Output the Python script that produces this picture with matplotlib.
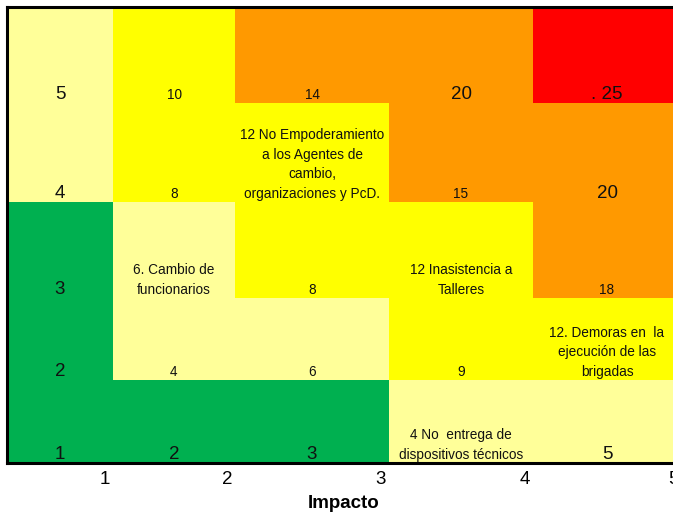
import matplotlib
matplotlib.use("Agg")
import matplotlib.pyplot as plt
import numpy as np
from matplotlib.colors import ListedColormap

plt.rcParams['font.family'] = ['Liberation Sans', 'DejaVu Sans']

# ---- data ----
impact_ticks = ["1", "2", "3", "4", "5"]
# colour class per cell, rows from bottom (1) to top (5), columns 1..5
# 0=green, 1=light yellow, 2=yellow, 3=orange, 4=red
level_row1 = [0, 0, 0, 1, 1]
level_row2 = [0, 1, 1, 2, 2]
level_row3 = [0, 1, 2, 2, 3]
level_row4 = [1, 2, 2, 3, 3]
level_row5 = [1, 2, 3, 3, 4]
# cell texts
text_row1 = ["1", "2", "3", "4 No  entrega de\ndispositivos técnicos", "5"]
text_row2 = ["2", "4", "6", "9", "12. Demoras en  la\nejecución de las\nbrigadas"]
text_row3 = ["3", "6. Cambio de\nfuncionarios", "8", "12 Inasistencia a\nTalleres", "18"]
text_row4 = ["4", "8", "12 No Empoderamiento\na los Agentes de\ncambio,\norganizaciones y PcD.", "15", "20"]
text_row5 = ["5", "10", "14", "20", ". 25"]
# large (True) or small (False) font for each cell text
big_row1 = [True, True, True, False, True]
big_row2 = [True, False, False, False, False]
big_row3 = [True, False, False, False, False]
big_row4 = [True, False, False, False, True]
big_row5 = [True, False, False, True, True]

# ---- layout (grid geometry in pixel-like units) ----
col_edges = np.array([0, 106, 228, 382, 526, 674])
row_edges = np.array([0, 83, 165, 261, 360, 456])
tick_pos = col_edges[1:] - 8

colors = ["#00B050", "#FFFF99", "#FFFF00", "#FF9900", "#FF0000"]
cmap = ListedColormap(colors)

levels = np.array([level_row1, level_row2, level_row3, level_row4, level_row5])
texts = [text_row1, text_row2, text_row3, text_row4, text_row5]
bigs = [big_row1, big_row2, big_row3, big_row4, big_row5]

W, H = 673, 513
fig = plt.figure(figsize=(W / 100, H / 100), dpi=100)
ax = fig.add_axes([7 / W, (H - 463) / H, 674 / W, 456 / H])
ax.pcolormesh(col_edges, row_edges, levels, cmap=cmap, vmin=-0.5, vmax=4.5)
ax.set_xlim(col_edges[0], col_edges[-1])
ax.set_ylim(row_edges[0], row_edges[-1])

for r in range(5):
    for c in range(5):
        xc = (col_edges[c] + col_edges[c + 1]) / 2
        yb = row_edges[r]
        ax.annotate(texts[r][c], xy=(xc, yb), xytext=(0, 3), textcoords='offset points',
                    ha='center', va='baseline', multialignment='center',
                    fontsize=13.5 if bigs[r][c] else 9.8, color='#111111',
                    linespacing=1.5)

ax.set_xticks(tick_pos)
ax.set_xticklabels(impact_ticks, fontsize=13.5)
ax.tick_params(axis='x', length=0, pad=6)
ax.set_yticks([])
ax.set_xlabel("Impacto", fontsize=13.5, fontweight='bold', labelpad=5)
for s in ['left', 'top', 'bottom']:
    ax.spines[s].set_linewidth(2.2)
    ax.spines[s].set_color('black')
ax.spines['right'].set_visible(False)

fig.savefig("out.png", dpi=100)
